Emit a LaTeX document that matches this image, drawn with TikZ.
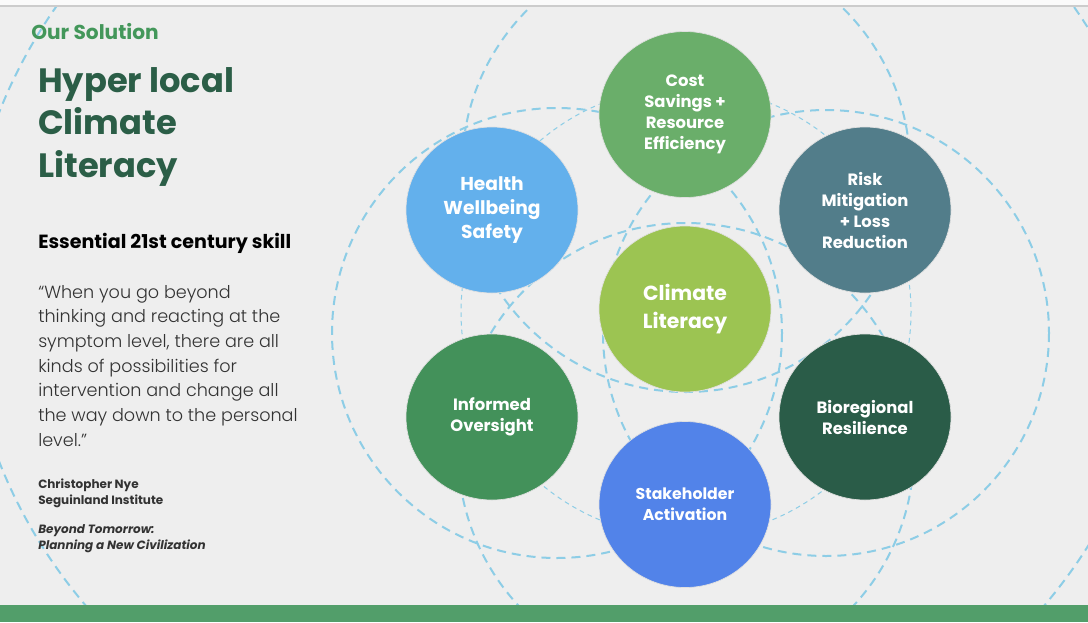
\documentclass[tikz,border=0pt]{standalone}
\usepackage{fontspec}
\setmainfont{Poppins}
\newfontfamily\lightfont{Poppins Light}
\usetikzlibrary{shapes.geometric}

\definecolor{slidebg}{HTML}{EEEEEE}
\definecolor{bargreen}{HTML}{529E6A}
\definecolor{ringblue}{HTML}{8DCDE6}
\definecolor{costgreen}{HTML}{6AAE6A}
\definecolor{healthblue}{HTML}{63B0EC}
\definecolor{riskslate}{HTML}{527D8A}
\definecolor{climatelime}{HTML}{9CC452}
\definecolor{informedgreen}{HTML}{43915A}
\definecolor{bioforest}{HTML}{2A5C48}
\definecolor{stakeblue}{HTML}{5283E9}
\definecolor{titlegreen}{HTML}{2B5E47}
\definecolor{kickergreen}{HTML}{43975A}
\definecolor{quotegray}{HTML}{333333}

\begin{document}
\begin{tikzpicture}[x=0.75pt,y=0.75pt,yscale=-1,xscale=1,
  bubble/.style={ellipse,minimum width=129pt,minimum height=124.5pt,inner sep=0pt,
    draw=black!12,line width=0.5pt,text=white,align=center,
    font=\bfseries\fontsize{12.3}{15.75}\selectfont},
  ring/.style={draw=ringblue,line width=1.5pt,dash pattern=on 6.75pt off 4.5pt},
  thinring/.style={draw=ringblue,line width=0.75pt,dash pattern=on 3.5pt off 3pt},
  leftcopy/.style={anchor=north west,inner sep=0pt,align=left}]
\useasboundingbox (0,0) rectangle (1088,622);

%Shape: Rectangle (slide)
\fill [slidebg] (0,0) rectangle (1088,622);

%Dashed rings, clipped to the slide area
\begin{scope}
\clip (0,6) rectangle (1088,605);
%Shape: Ellipse (outer)
\draw [ring] (565,287) ellipse [x radius=599,y radius=531];
%Shape: Circle (left)
\draw [ring] (557,333) circle [radius=225];
%Shape: Circle (right)
\draw [ring] (826,333) circle [radius=223];
%Shape: Circle (top)
\draw [ring] (686,168) circle [radius=224];
%Shape: Circle (bottom)
\draw [ring] (686,451) circle [radius=228];
%Shape: Circle (inner, thin)
\draw [thinring] (686,312) circle [radius=225];
\end{scope}

%Shape: Rectangle (top strip)
\fill [white!98!black] (0,0) rectangle (1088,6);
\draw [black!20,line width=0.9pt] (0,6) -- (1088,6);
%Shape: Rectangle (bottom bar)
\fill [bargreen] (0,605) rectangle (1088,622);

%Shape: Circle
\draw (685,114.5) node (cost) [bubble,fill=costgreen] {Cost\\Savings +\\Resource\\Efficiency};
%Shape: Circle
\draw (492,210) node (health) [bubble,fill=healthblue,font=\bfseries\fontsize{14}{18}\selectfont] {Health\\Wellbeing\\Safety};
%Shape: Circle
\draw (865,210) node (risk) [bubble,fill=riskslate] {Risk\\Mitigation\\+ Loss\\Reduction};
%Shape: Circle
\draw (685,309) node (climate) [bubble,fill=climatelime,font=\bfseries\fontsize{15.3}{21}\selectfont] {Climate\\Literacy};
%Shape: Circle
\draw (492,417) node (informed) [bubble,fill=informedgreen] {Informed\\Oversight};
%Shape: Circle
\draw (865,417) node (bioregion) [bubble,fill=bioforest] {Bioregional\\Resilience};
%Shape: Circle
\draw (685,504.5) node (stake) [bubble,fill=stakeblue,font=\bfseries\fontsize{11.8}{15.75}\selectfont] {Stakeholder\\Activation};

% Text Node
\draw (31,23) node (kicker) [leftcopy,text=kickergreen,font=\bfseries\fontsize{15.1}{18}\selectfont] {Our Solution};
% Text Node
\draw (38,67) node (title) [leftcopy,text=titlegreen,font=\bfseries\fontsize{25.3}{31.9}\selectfont] {Hyper local\\Climate\\Literacy};
% Text Node
\draw (38,233) node (skill) [leftcopy,text=black,font=\bfseries\fontsize{14.3}{16}\selectfont] {Essential 21st century skill};
% Text Node
\draw (38,285) node (quote) [leftcopy,text=quotegray,font=\lightfont\fontsize{13.2}{18.5}\selectfont] {“When you go beyond\\thinking and reacting at the\\symptom level, there are all\\kinds of possibilities for\\intervention and change all\\the way down to the personal\\level.”};
% Text Node
\draw (38,479) node (author) [leftcopy,text=quotegray,font=\bfseries\fontsize{9}{12}\selectfont] {Christopher Nye\\Seguinland Institute};
% Text Node
\draw (38,524) node (book) [leftcopy,text=quotegray,font=\bfseries\itshape\fontsize{9}{12}\selectfont] {Beyond Tomorrow:\\Planning a New Civilization};

\end{tikzpicture}
\end{document}
